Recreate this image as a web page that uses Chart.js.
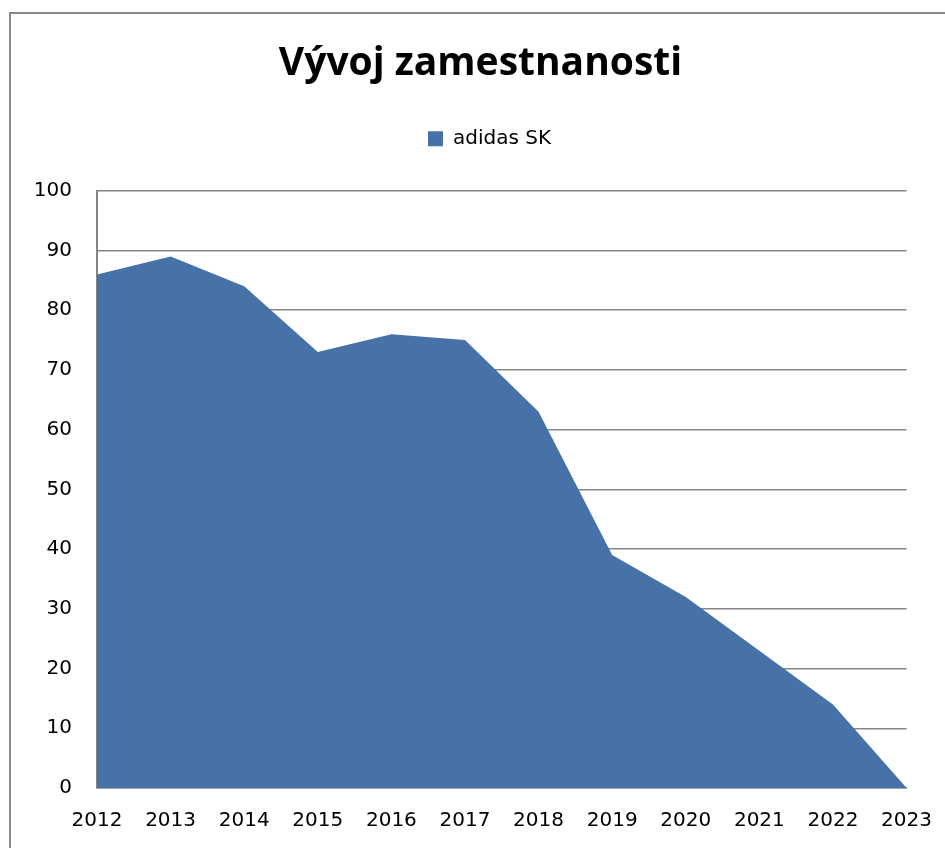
<!DOCTYPE html>
<html>
<head>
<meta charset="utf-8">
<script src="https://cdn.jsdelivr.net/npm/chart.js@4"></script>
<style>
html,body{margin:0;padding:0;background:#fff;}
#wrap{position:relative;width:945px;height:848px;}
</style>
</head>
<body>
<div id="wrap"><canvas id="c" width="945" height="848"></canvas></div>
<script>
const categories = ["2012","2013","2014","2015","2016","2017","2018","2019","2020","2021","2022","2023"];
const seriesName = "adidas SK";
const values = [86, 89, 84, 73, 76, 75, 63, 39, 32, 23, 14, 0];
const titleText = "Vývoj zamestnanosti";

const fillColor = "#4672a8";
const gridColor = "#858585";

const borderPlugin = {
  id: 'outerBorder',
  beforeDraw(chart) {
    const ctx = chart.ctx;
    ctx.save();
    ctx.fillStyle = '#fff';
    ctx.fillRect(0, 0, chart.width, chart.height);
    ctx.strokeStyle = '#888888';
    ctx.lineWidth = 2;
    ctx.strokeRect(10, 13, 2000, 2000);
    ctx.restore();
  }
};

const spacerPlugin = {
  id: 'spacer',
  beforeInit(chart) {
    const box = {
      position: 'top',
      weight: 0,
      fullSize: true,
      options: {},
      left: 0, top: 0, right: 0, bottom: 0, width: 0, height: 0,
      isHorizontal() { return true; },
      update(maxWidth) { this.width = maxWidth; this.height = 32; },
      getPadding() { return { left: 0, right: 0, top: 0, bottom: 0 }; },
      draw() {}
    };
    Chart.layouts.addBox(chart, box);
  },
  afterLayout(chart) {
    if (chart.titleBlock) chart.titleBlock.left = 48;
    if (chart.legend) chart.legend.left = 66;
  }
};

new Chart(document.getElementById('c'), {
  type: 'line',
  data: {
    labels: categories,
    datasets: [{
      label: seriesName,
      data: values,
      fill: 'origin',
      backgroundColor: fillColor,
      borderColor: fillColor,
      borderWidth: 0,
      pointRadius: 0,
      tension: 0
    }]
  },
  options: {
    responsive: false,
    animation: false,
    layout: { padding: { left: 0, right: 32, top: 0, bottom: 0 } },
    plugins: {
      title: {
        display: true,
        text: titleText,
        color: '#000',
        font: { family: 'Open Sans', size: 39, weight: 'bold', lineHeight: 1.2 },
        padding: { top: 40, bottom: 32 }
      },
      legend: {
        display: true,
        labels: {
          color: '#000',
          font: { family: 'DejaVu Sans', size: 20 },
          boxWidth: 15,
          boxHeight: 15,
          padding: 10,
          generateLabels(chart) {
            return [{
              text: seriesName,
              fillStyle: fillColor,
              strokeStyle: fillColor,
              lineWidth: 0,
              datasetIndex: 0,
              hidden: false
            }];
          }
        }
      },
      tooltip: { enabled: false }
    },
    scales: {
      x: {
        offset: false,
        grid: { display: false, drawTicks: true, tickLength: 8 },
        border: { display: true, color: gridColor, width: 1.5 },
        ticks: { color: '#000', font: { family: 'DejaVu Sans', size: 20 }, padding: 13, maxRotation: 0, autoSkip: false },
        afterFit(scale) { scale.height = 60; }
      },
      y: {
        min: 0,
        max: 100,
        grid: { color: gridColor, lineWidth: 1.5, drawTicks: false },
        border: { display: true, color: gridColor, width: 2 },
        ticks: { stepSize: 10, color: '#000', font: { family: 'DejaVu Sans', size: 20 }, padding: 25 },
        afterFit(scale) { scale.width = 97; }
      }
    }
  },
  plugins: [borderPlugin, spacerPlugin]
});
</script>
</body>
</html>
